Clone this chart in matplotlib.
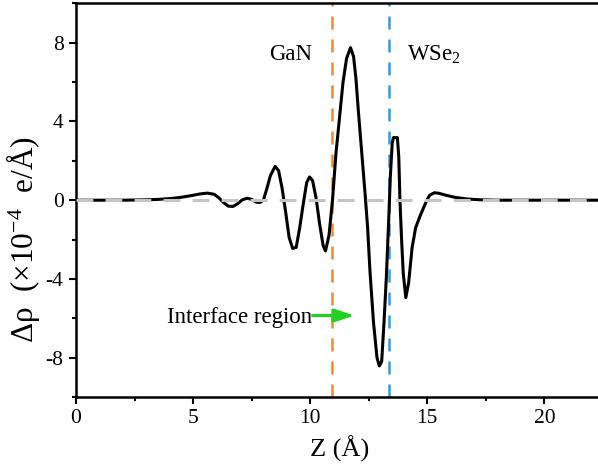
import numpy as np
import matplotlib
matplotlib.use("Agg")
import matplotlib.pyplot as plt
from matplotlib.ticker import MultipleLocator

plt.rcParams['font.family'] = ['Liberation Serif', 'DejaVu Serif']
plt.rcParams['mathtext.fontset'] = 'custom'
plt.rcParams['mathtext.rm'] = 'Liberation Serif'
plt.rcParams['mathtext.it'] = 'Liberation Serif:italic'
plt.rcParams['axes.unicode_minus'] = False

# planar-averaged charge density difference along z
z = [0.0, 1.0, 2.0, 3.0, 3.5, 4.0, 4.5, 5.0, 5.3, 5.6, 5.9, 6.1, 6.3, 6.5,
     6.7, 6.9, 7.1, 7.3, 7.5, 7.7, 7.85, 8.0, 8.15, 8.3, 8.5, 8.65, 8.8,
     8.95, 9.1, 9.25, 9.4, 9.55, 9.7, 9.85, 9.97, 10.1, 10.25, 10.4, 10.55,
     10.65, 10.8, 10.95, 11.1, 11.25, 11.4, 11.55, 11.72, 11.85, 11.95,
     12.05, 12.2, 12.35, 12.45, 12.55, 12.7, 12.85, 12.95, 13.05, 13.15,
     13.25, 13.35, 13.42, 13.5, 13.55, 13.72, 13.78, 13.83, 13.9, 13.97,
     14.08, 14.2, 14.35, 14.5, 14.68, 14.85, 15.0, 15.1, 15.3, 15.5, 15.8,
     16.2, 16.7, 17.3, 18.0, 19.0, 20.0, 21.0, 22.5]
drho = [0.0, 0.0, 0.0, 0.02, 0.04, 0.08, 0.15, 0.25, 0.32, 0.36, 0.30, 0.12,
        -0.12, -0.30, -0.32, -0.18, 0.02, 0.10, 0.04, -0.10, -0.12, 0.0,
        0.6, 1.25, 1.72, 1.5, 0.6, -0.6, -1.9, -2.45, -2.4, -1.4, -0.2, 0.9,
        1.18, 1.0, 0.1, -1.2, -2.3, -2.58, -1.8, 0.0, 2.4, 4.2, 6.0, 7.2,
        7.75, 7.3, 6.2, 4.6, 2.4, 0.2, -1.4, -3.6, -6.2, -8.0, -8.42, -8.2,
        -6.2, -3.9, -1.0, 1.2, 2.9, 3.18, 3.18, 2.2, 0.0, -2.0, -3.7, -4.95,
        -4.2, -2.4, -1.4, -0.83, -0.35, 0.05, 0.25, 0.38, 0.35, 0.25, 0.14,
        0.06, 0.02, 0.0, 0.0, 0.0, 0.0, 0.0]

z_gan = 10.91   # GaN side boundary
z_wse2 = 13.35  # WSe2 side boundary

fig = plt.figure(figsize=(5.98, 4.67), dpi=100)
ax = fig.add_axes([0.1271, 0.1499, 0.8813, 0.8428])

ax.plot(z, drho, color='black', lw=2.2, zorder=2)
ax.axhline(0, color='#c4c4c4', lw=2.2, dashes=(5.5, 4), zorder=3)
ax.axvline(z_gan, color='#ec8a3a', lw=1.8, dashes=(5.2, 4), zorder=1)
ax.axvline(z_wse2, color='#2a9de6', lw=1.8, dashes=(5.2, 4), zorder=1)

ax.text(9.17, 7.4, 'GaN', fontsize=16.5, ha='center', va='center')
ax.text(14.11, 7.4, 'WSe$_2$', fontsize=16.5, ha='left', va='center')
ax.text(10.06, -6.25, 'Interface region', fontsize=16.5, ha='right',
        va='baseline')
ax.annotate('', xy=(11.9, -5.86), xytext=(10.1, -5.86),
            arrowprops=dict(arrowstyle='-|>,head_length=1.22,head_width=0.4',
                            color='#1ed21e', lw=2.2, mutation_scale=10,
                            shrinkA=0, shrinkB=0))

ax.set_xlim(0, 22.5)
ax.set_ylim(-10, 10)
ax.xaxis.set_major_locator(MultipleLocator(5))
ax.xaxis.set_minor_locator(MultipleLocator(2.5))
ax.yaxis.set_major_locator(MultipleLocator(4))
ax.yaxis.set_minor_locator(MultipleLocator(2))
ax.tick_params(which='both', direction='out', width=1.5, labelsize=15.5)
ax.tick_params(which='major', length=5, pad=4)
ax.tick_params(which='minor', length=3)
for s in ax.spines.values():
    s.set_linewidth(1.8)

ax.set_xlabel('Z (Å)', fontsize=19, labelpad=5)
ax.set_ylabel('Δρ  (×10$^{-4}$  e/Å)', fontsize=22.5, va='center')
ax.yaxis.set_label_coords(-0.1, 0.4)

fig.savefig('out.png', dpi=100)
